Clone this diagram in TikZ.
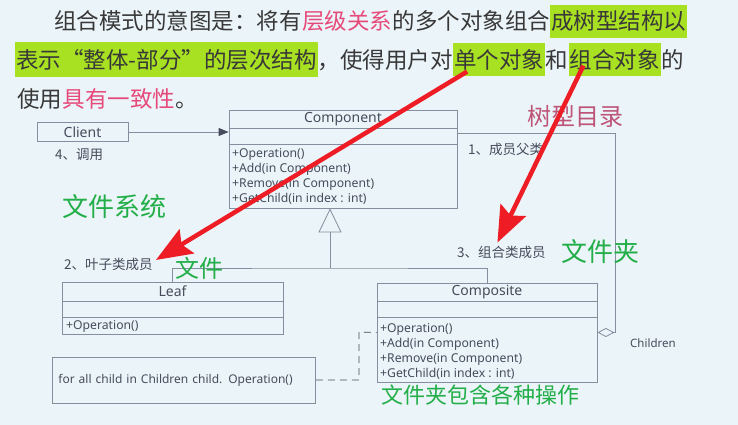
\documentclass[tikz,border=0pt]{standalone}
\usepackage{fontspec}
\setmainfont{Noto Sans}
\newfontfamily\cjk{Noto Sans CJK SC}
\usetikzlibrary{arrows.meta,positioning}
\definecolor{SlideBg}{HTML}{EBF4F8}
\definecolor{HlGreen}{HTML}{A8E022}
\definecolor{TextPink}{HTML}{E64A7B}
\definecolor{TreePink}{HTML}{BE5578}
\definecolor{NoteGreen}{HTML}{22AE48}
\definecolor{UmlLine}{HTML}{858DA0}
\definecolor{UmlText}{HTML}{464C5C}
\definecolor{ArrowRed}{HTML}{EE1D25}
\definecolor{HeadText}{HTML}{383838}

\tikzset{
  headtext/.style={font=\cjk\fontsize{22.5}{27}\selectfont, text=HeadText, inner sep=0pt, anchor=base west},
  hilite/.style={fill=HlGreen, inner xsep=1pt, minimum height=33pt},
  pinkword/.style={text=TextPink},
  umlline/.style={draw=UmlLine, line width=0.8pt},
  classbox/.style={umlline, inner sep=0pt},
  classtitle/.style={font=\fontsize{14}{16}\selectfont, text=UmlText, inner sep=0pt},
  method/.style={font=\fontsize{12.2}{14}\selectfont, text=UmlText, inner sep=0pt, anchor=west},
  umllabel/.style={font=\cjk\fontsize{13.5}{16}\selectfont, text=UmlText, inner sep=0pt, anchor=west},
  greennote/.style={font=\cjk\fontsize{#1}{#1}\selectfont, text=NoteGreen, inner sep=0pt, anchor=west},
  redarrow/.style={draw=ArrowRed, line width=4.5pt, -{Stealth[length=36pt,width=28pt,inset=6pt]}}
}

\begin{document}
\begin{tikzpicture}[x=1pt, y=-1pt]
    \fill[SlideBg] (0,0) rectangle (738,425);
    \useasboundingbox (0,0) rectangle (738,425);

    % heading text
    \node[headtext] (h1a) at (54,29.5) {组合模式的意图是：将有};
    \node[headtext, pinkword] (h1b) at (h1a.base east) {层级关系};
    \node[headtext] (h1c) at (h1b.base east) {的多个对象组合};
    \node[headtext, hilite] (h1d) at (h1c.base east) {成树型结构以};

    \node[headtext, hilite, minimum height=35pt] (h2a) at (15,68.5) {表示“整体-部分”的层次结构};
    \node[headtext] (h2b) at (h2a.base east) {，使得用户对};
    \node[headtext, hilite] (h2c) at (h2b.base east) {单个对象};
    \node[headtext] (h2d) at (h2c.base east) {和};
    \node[headtext, hilite] (h2e) at (h2d.base east) {组合对象};
    \node[headtext] (h2f) at (h2e.base east) {的};

    \node[headtext] (h3a) at (17,108) {使用};
    \node[headtext, pinkword] (h3b) at (h3a.base east) {具有一致性};
    \node[headtext] (h3c) at (h3b.base east) {。};

    \node[font=\cjk\fontsize{24}{24}\selectfont, text=TreePink, inner sep=0pt, anchor=west] (tree) at (527,116) {树型目录};

    % class boxes
    \foreach \nm/\ttl/\l/\t/\r/\b/\hd/\at in {comp/Component/229/110/457/208/128/144, leaf/Leaf/62/282/283/334/301/317, compo/Composite/377/283/597/382/301/317} {
        \node[classbox, minimum width={(\r-\l)*1pt}, minimum height={(\b-\t)*1pt}] (\nm) at ({(\l+\r)/2},{(\t+\b)/2}) {};
        \node[classtitle] (\nm-title) at ({(\l+\r)/2},{(\t+\hd)/2}) {\ttl};
        \draw[umlline] (\l,\hd) -- (\r,\hd) (\l,\at) -- (\r,\at);
    }
    \foreach \m [count=\i from 0] in {+Operation(), +Add(in Component), +Remove(in Component), +GetChild(in index : int)} {
        \node[method] (cm\i) at (232,{154+15*\i}) {\m};
        \node[method] (km\i) at (380,{329+15*\i}) {\m};
    }
    \node[method] (lm0) at (66,326) {+Operation()};

    \node[classbox, minimum width=91pt, minimum height=19pt, font=\fontsize{14}{16}\selectfont, text=UmlText] (client) at (82.5,132) {Client};

    \node[classbox, font=\fontsize{12}{14}\selectfont, text=UmlText, text width=251pt, align=left, inner xsep=6pt, minimum height=46pt, anchor=west] (note) at (52,380) {for all child in Children child. Operation()};

    % connectors
    \draw[umlline, -{Triangle[length=10pt,width=8pt,color=UmlText,fill=UmlText]}] (client) -- (client -| comp.west);

    \coordinate (aggtop) at (615,133);
    \draw[umlline, {Diamond[open,length=17pt,width=9pt]}-] (compo.east) -| (aggtop) -- (comp.east |- aggtop);

    \coordinate (genjoin) at (330,268);
    \draw[umlline] (leaf.north) |- (genjoin) -| (compo.north);
    \draw[umlline, -{Triangle[open,length=24pt,width=23pt]}] (genjoin) -- (genjoin |- comp.south);

    \coordinate (notebend) at (359,332);
    \draw[umlline, draw=UmlText, dash pattern=on 7pt off 5pt] (note.east) -| (notebend) -- (compo.west);

    % labels
    \node[umllabel] (lab1) at (468,149) {1、成员父类};
    \node[umllabel] (lab2) at (64,264) {2、叶子类成员};
    \node[umllabel] (lab3) at (457,252) {3、组合类成员};
    \node[umllabel] (lab4) at (55,155) {4、调用};
    \node[method, font=\fontsize{11.5}{13}\selectfont] (children) at (630,343) {Children};

    \node[greennote=26] (gn1) at (62,207) {文件系统};
    \node[greennote=24] (gn2) at (175,268) {文件};
    \node[greennote=26] (gn3) at (561,252) {文件夹};
    \node[greennote=22] (gn4) at (381,395) {文件夹包含各种操作};

    % red arrows
    \draw[redarrow] ([xshift=14pt,yshift=5pt]h2c.south west) -- ([xshift=3pt,yshift=4pt]lab2.east);
    \draw[redarrow] ([xshift=15pt,yshift=11pt]h2e.south west) -- ([xshift=-4pt,yshift=3pt]lab3.north);
\end{tikzpicture}
\end{document}
